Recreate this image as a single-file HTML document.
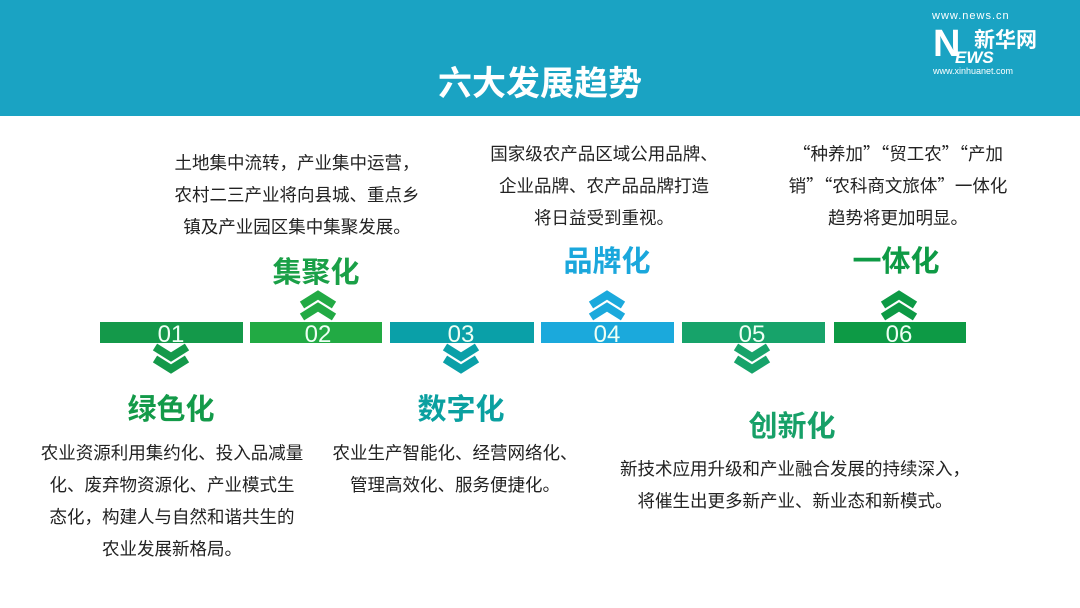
<!DOCTYPE html>
<html><head><meta charset="utf-8"><style>
body{margin:0;width:1080px;height:608px;background:#fff;position:relative;overflow:hidden;font-family:"Liberation Sans","Noto Sans CJK SC",sans-serif}
.hdr{position:absolute;left:0;top:0;width:1080px;height:116px;background:#1aa3c3}
.title{position:absolute;left:0;width:1080px;top:62px;text-align:center;color:#fff;font-size:34px;font-weight:bold;line-height:44px}
.t{position:absolute;text-align:center;font-size:17.5px;line-height:32px;color:#222;white-space:nowrap}
.q{font-family:"Noto Sans CJK SC",sans-serif}
.h{position:absolute;font-size:29px;font-weight:bold;line-height:34px;white-space:nowrap;transform:translateX(-50%)}
.bar{position:absolute;top:322px;height:21px}
.n{position:absolute;top:318px;color:#eefff4;font-size:24px;line-height:34px;transform:translateX(-50%)}
</style></head><body>
<div class="hdr"></div>
<div class="title">六大发展趋势</div>
<div style="position:absolute;left:932px;top:10px;color:#fff;font-size:11px;letter-spacing:1px">www.news.cn</div>
<div style="position:absolute;left:933px;top:24px;color:#fff;font-size:38px;font-weight:bold;line-height:40px">N</div>
<div style="position:absolute;left:974px;top:24px;color:#fff;font-size:21px;font-weight:bold">新华网</div>
<div style="position:absolute;left:955px;top:48px;color:#fff;font-size:17px;font-weight:bold;font-style:italic">EWS</div>
<div style="position:absolute;left:933px;top:66px;color:#fff;font-size:9px">www.xinhuanet.com</div>

<div class="bar" style="left:100px;width:143px;background:#14994a"></div>
<div class="bar" style="left:250px;width:132px;background:#22aa44"></div>
<div class="bar" style="left:390px;width:144px;background:#0aa0a8"></div>
<div class="bar" style="left:541px;width:133px;background:#1ba9dc"></div>
<div class="bar" style="left:682px;width:143px;background:#17a36a"></div>
<div class="bar" style="left:834px;width:132px;background:#0d9a45"></div>

<svg width="1080" height="608" style="position:absolute;left:0;top:0" fill="none" stroke-width="8">
<polyline points="155,347 171,357 187,347" stroke="#14994a"/><polyline points="155,359 171,369 187,359" stroke="#14994a"/>
<polyline points="302,305 318,295 334,305" stroke="#22aa44"/><polyline points="302,317 318,307 334,317" stroke="#22aa44"/>
<polyline points="445,347 461,357 477,347" stroke="#0aa0a8"/><polyline points="445,359 461,369 477,359" stroke="#0aa0a8"/>
<polyline points="591,305 607,295 623,305" stroke="#1ba9dc"/><polyline points="591,317 607,307 623,317" stroke="#1ba9dc"/>
<polyline points="736,347 752,357 768,347" stroke="#17a36a"/><polyline points="736,359 752,369 768,359" stroke="#17a36a"/>
<polyline points="883,305 899,295 915,305" stroke="#0d9a45"/><polyline points="883,317 899,307 915,317" stroke="#0d9a45"/>
</svg>
<div class="n" style="left:171px">01</div>
<div class="n" style="left:318px">02</div>
<div class="n" style="left:461px">03</div>
<div class="n" style="left:607px">04</div>
<div class="n" style="left:752px">05</div>
<div class="n" style="left:899px">06</div>

<div class="h" style="left:171px;top:393px;color:#139a49">绿色化</div>
<div class="h" style="left:316px;top:256px;color:#1aa047">集聚化</div>
<div class="h" style="left:461px;top:393px;color:#0aa0a0">数字化</div>
<div class="h" style="left:607px;top:245px;color:#1aa7dc">品牌化</div>
<div class="h" style="left:792px;top:410px;color:#17a068">创新化</div>
<div class="h" style="left:896px;top:245px;color:#0e9a45">一体化</div>

<div class="t" style="left:22px;width:300px;top:437px">农业资源利用集约化、投入品减量<br>化、废弃物资源化、产业模式生<br>态化，构建人与自然和谐共生的<br>农业发展新格局。</div>
<div class="t" style="left:147px;width:300px;top:147px">土地集中流转，产业集中运营，<br>农村二三产业将向县城、重点乡<br>镇及产业园区集中集聚发展。</div>
<div class="t" style="left:305px;width:300px;top:437px">农业生产智能化、经营网络化、<br>管理高效化、服务便捷化。</div>
<div class="t" style="left:454px;width:300px;top:138px">国家级农产品区域公用品牌、<br>企业品牌、农产品品牌打造<br>将日益受到重视。</div>
<div class="t" style="left:595px;width:400px;top:453px">新技术应用升级和产业融合发展的持续深入，<br>将催生出更多新产业、新业态和新模式。</div>
<div class="t" style="left:748px;width:300px;top:138px"><span class="q">“</span>种养加<span class="q">”“</span>贸工农<span class="q">”“</span>产加<br>销<span class="q">”“</span>农科商文旅体<span class="q">”</span>一体化<br>趋势将更加明显。</div>
</body></html>
